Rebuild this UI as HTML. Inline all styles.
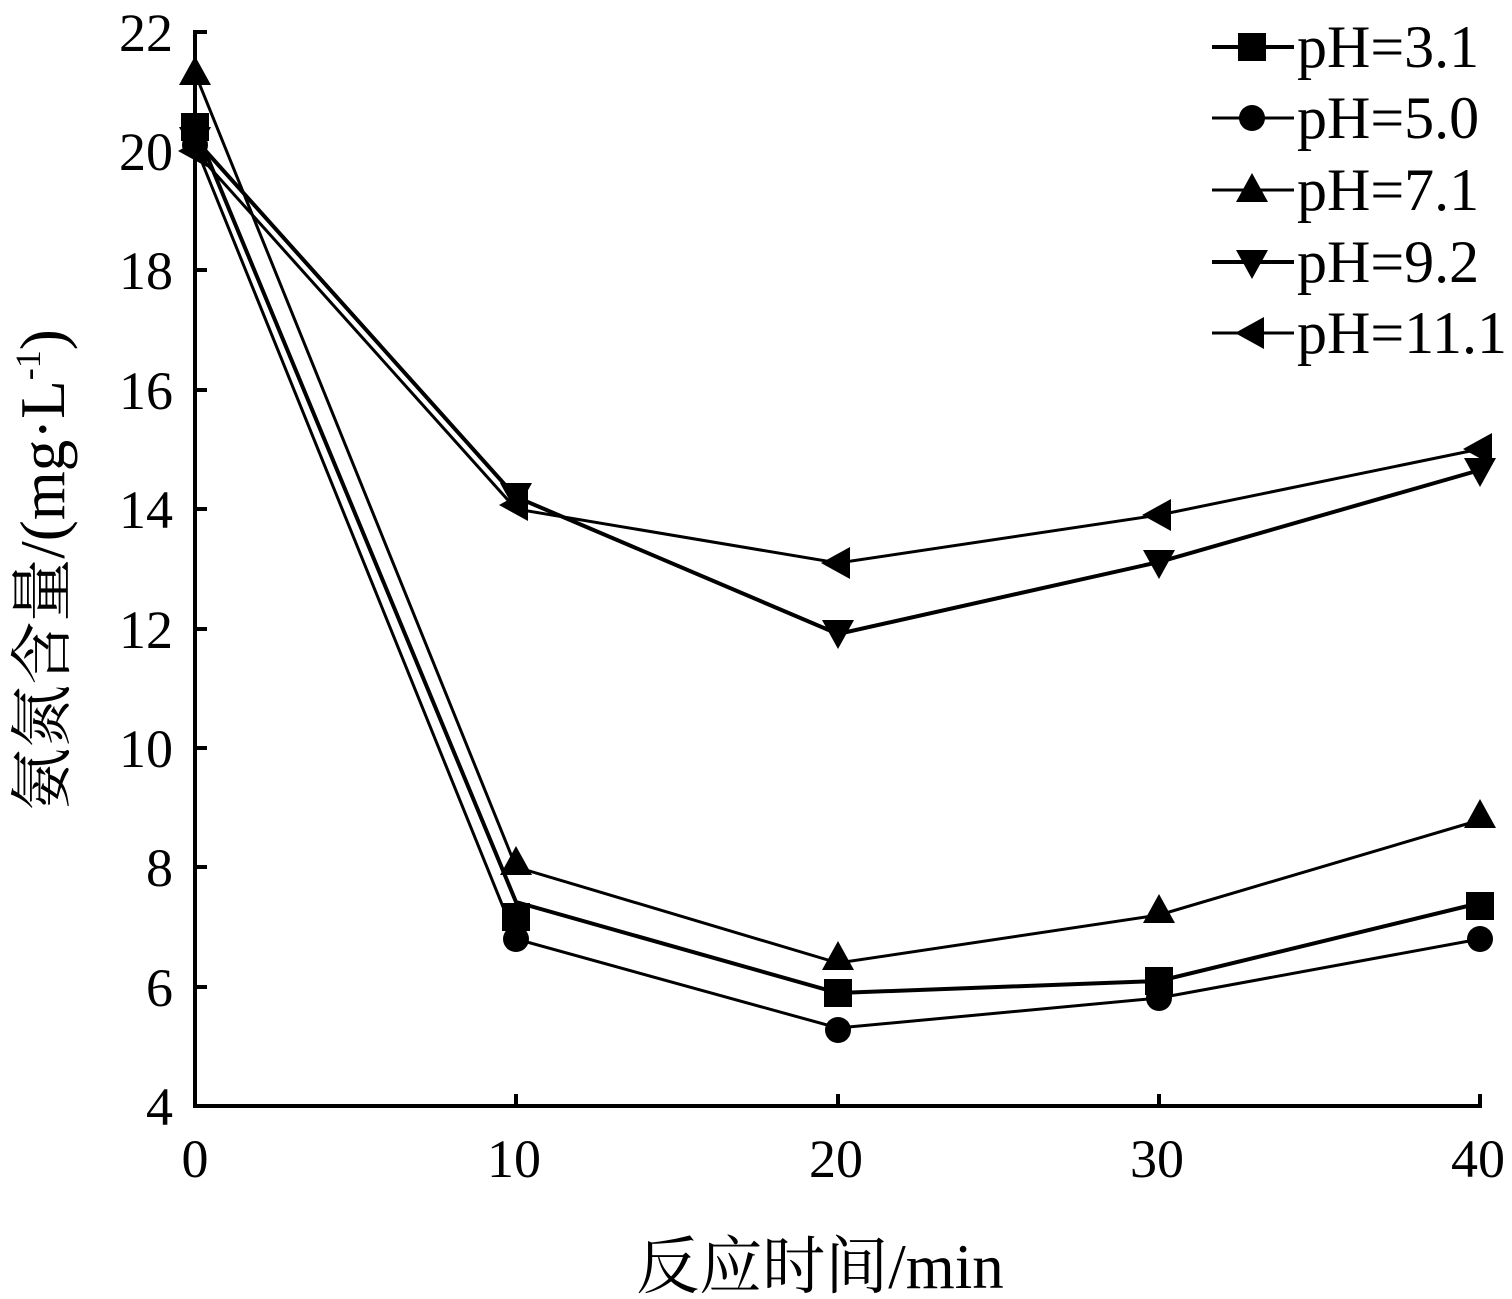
<!DOCTYPE html>
<html><head><meta charset="utf-8"><style>
html,body{margin:0;padding:0;background:#fff;}
svg{display:block;}
text{font-family:"Liberation Serif","Noto Serif CJK SC",serif;fill:#000;}
</style></head><body>
<svg width="1512" height="1299" viewBox="0 0 1512 1299" xmlns="http://www.w3.org/2000/svg">
<defs>
<g id="sq"><rect x="-14" y="-14" width="28" height="28" fill="#000"/></g>
<g id="ci"><circle r="13" fill="#000"/></g>
<g id="tu"><polygon points="0,-17 16,12 -16,12" fill="#000"/></g>
<g id="td"><polygon points="0,17 16,-12 -16,-12" fill="#000"/></g>
<g id="tl"><polygon points="-17,0 12,-16 12,16" fill="#000"/></g>
</defs>
<g stroke="#000" stroke-width="4" fill="none">
<line x1="195" y1="30" x2="195" y2="1106"/>
<line x1="193" y1="1106" x2="1482" y2="1106"/>
<line x1="516" y1="1106" x2="516" y2="1094"/>
<line x1="838" y1="1106" x2="838" y2="1094"/>
<line x1="1159" y1="1106" x2="1159" y2="1094"/>
<line x1="1480" y1="1106" x2="1480" y2="1094"/>
<line x1="195" y1="32" x2="207" y2="32"/>
<line x1="195" y1="151" x2="207" y2="151"/>
<line x1="195" y1="270" x2="207" y2="270"/>
<line x1="195" y1="390" x2="207" y2="390"/>
<line x1="195" y1="509" x2="207" y2="509"/>
<line x1="195" y1="629" x2="207" y2="629"/>
<line x1="195" y1="748" x2="207" y2="748"/>
<line x1="195" y1="867" x2="207" y2="867"/>
<line x1="195" y1="987" x2="207" y2="987"/>
</g>
<g font-size="54" text-anchor="end">
<text x="173" y="51">22</text><text x="173" y="170">20</text><text x="173" y="289">18</text>
<text x="173" y="409">16</text><text x="173" y="528">14</text><text x="173" y="648">12</text>
<text x="173" y="767">10</text><text x="173" y="886">8</text><text x="173" y="1006">6</text>
<text x="173" y="1125">4</text>
</g>
<g font-size="54" text-anchor="middle">
<text x="195" y="1177">0</text><text x="514" y="1177">10</text><text x="836" y="1177">20</text>
<text x="1157" y="1177">30</text><text x="1478" y="1177">40</text>
</g>
<text x="820" y="1288" font-size="63" text-anchor="middle">反应时间/min</text>
<text transform="translate(64,570) rotate(-90)" font-size="63" text-anchor="middle">氨氮含量/(mg·L<tspan font-size="36" dy="-24">-1</tspan><tspan dy="24">)</tspan></text>
<g fill="none" stroke="#000">
<polyline stroke-width="4" points="195,127 516,902 838,993 1159,981 1480,903"/>
<polyline stroke-width="3" points="195,145 516,939 838,1028 1159,998 1480,939"/>
<polyline stroke-width="3" points="195,73 516,867 838,963 1159,915 1480,820"/>
<polyline stroke-width="4" points="195,139 516,497 838,634 1159,562 1480,470"/>
<polyline stroke-width="3" points="195,151 516,509 838,563 1159,515 1480,449"/>
</g>
<g>
<use href="#sq" x="195" y="127"/><use href="#sq" x="516" y="917"/><use href="#sq" x="838" y="993"/><use href="#sq" x="1159" y="981"/><use href="#sq" x="1480" y="906"/>
<use href="#ci" x="195" y="145"/><use href="#ci" x="516" y="939"/><use href="#ci" x="838" y="1030"/><use href="#ci" x="1159" y="998"/><use href="#ci" x="1480" y="939"/>
<use href="#tu" x="195" y="73"/><use href="#tu" x="516" y="863"/><use href="#tu" x="838" y="958"/><use href="#tu" x="1159" y="911"/><use href="#tu" x="1480" y="816"/>
<use href="#td" x="195" y="139"/><use href="#td" x="516" y="495"/><use href="#td" x="838" y="632"/><use href="#td" x="1159" y="562"/><use href="#td" x="1480" y="470"/>
<use href="#tl" x="195" y="151"/><use href="#tl" x="516" y="505"/><use href="#tl" x="838" y="563"/><use href="#tl" x="1159" y="515"/><use href="#tl" x="1480" y="449"/>
</g>
<g stroke="#000" fill="none">
<line x1="1212" y1="47" x2="1294" y2="47" stroke-width="4"/>
<line x1="1212" y1="118" x2="1294" y2="118" stroke-width="3"/>
<line x1="1212" y1="190" x2="1294" y2="190" stroke-width="3"/>
<line x1="1212" y1="262" x2="1294" y2="262" stroke-width="4"/>
<line x1="1212" y1="333" x2="1294" y2="333" stroke-width="3"/>
</g>
<use href="#sq" x="1252" y="47"/><use href="#ci" x="1252" y="118"/><use href="#tu" x="1252" y="190"/><use href="#td" x="1252" y="262"/><use href="#tl" x="1252" y="333"/>
<g font-size="60">
<text x="1297" y="67">pH=3.1</text>
<text x="1297" y="138">pH=5.0</text>
<text x="1297" y="210">pH=7.1</text>
<text x="1297" y="282">pH=9.2</text>
<text x="1297" y="353">pH=11.1</text>
</g>
</svg>
</body></html>
